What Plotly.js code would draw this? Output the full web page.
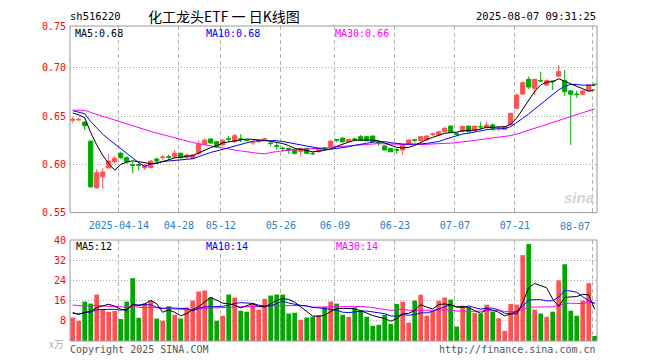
<!DOCTYPE html>
<html>
<head>
<meta charset="utf-8">
<script src="https://cdn.plot.ly/plotly-3.0.1.min.js"></script>
<style>
html,body{margin:0;padding:0;background:#fff;}
#chart{width:660px;height:360px;}
</style>
</head>
<body>
<div id="chart"></div>
<script>
// ---------- data ----------
const dates = ['04-01','04-02','04-03','04-07','04-08','04-09','04-10','04-11','04-14','04-15','04-16','04-17','04-18','04-21','04-22','04-23','04-24','04-25','04-28','04-29','04-30',
'05-06','05-07','05-08','05-09','05-12','05-13','05-14','05-15','05-16','05-19','05-20','05-21','05-22','05-23','05-26','05-27','05-28','05-29','05-30',
'06-03','06-04','06-05','06-06','06-09','06-10','06-11','06-12','06-13','06-16','06-17','06-18','06-19','06-20','06-23','06-24','06-25','06-26','06-27','06-30',
'07-01','07-02','07-03','07-04','07-07','07-08','07-09','07-10','07-11','07-14','07-15','07-16','07-17','07-18','07-21','07-22','07-23','07-24','07-25','07-28','07-29','07-30','07-31',
'08-01','08-04','08-05','08-06','08-07'];

const openP = [0.6455,0.6460,0.6437,0.6240,0.5758,0.5870,0.5962,0.6027,0.6114,0.6068,
0.5995,0.5995,0.5965,0.5965,0.6055,0.6070,0.6078,0.6075,0.6114,0.6068,
0.6062,0.6110,0.6210,0.6262,0.6234,0.6200,0.6265,0.6234,0.6265,0.6250,
0.6222,0.6235,0.6258,0.6220,0.6193,0.6168,0.6165,0.6155,0.6130,0.6165,
0.6114,0.6130,0.6168,0.6185,0.6255,0.6270,0.6234,0.6262,0.6286,0.6286,
0.6293,0.6226,0.6190,0.6165,0.6150,0.6148,0.6210,0.6254,0.6245,0.6252,
0.6310,0.6303,0.6337,0.6396,0.6316,0.6340,0.6396,0.6348,0.6392,0.6383,
0.6407,0.6375,0.6362,0.6407,0.6580,0.6728,0.6880,0.6787,0.6868,0.6820,
0.6862,0.6913,0.6866,0.6760,0.6727,0.6725,0.6762,0.6830];

const highP = [0.6490,0.6480,0.6450,0.6245,0.5951,0.5960,0.6105,0.6086,0.6130,0.6086,
0.6027,0.6017,0.6000,0.6045,0.6070,0.6095,0.6100,0.6148,0.6120,0.6105,
0.6105,0.6250,0.6267,0.6270,0.6240,0.6260,0.6296,0.6320,0.6310,0.6255,
0.6235,0.6250,0.6272,0.6240,0.6227,0.6183,0.6172,0.6160,0.6170,0.6170,
0.6130,0.6172,0.6180,0.6250,0.6262,0.6285,0.6262,0.6275,0.6303,0.6290,
0.6295,0.6252,0.6195,0.6170,0.6165,0.6205,0.6255,0.6262,0.6290,0.6300,
0.6327,0.6340,0.6390,0.6400,0.6336,0.6398,0.6400,0.6400,0.6440,0.6440,
0.6425,0.6390,0.6393,0.6530,0.6734,0.6860,0.6907,0.6885,0.6959,0.6880,
0.6868,0.7028,0.6976,0.6770,0.6760,0.6762,0.6825,0.6835];

const lowP = [0.6430,0.6445,0.6355,0.5755,0.5745,0.5748,0.5955,0.6010,0.6055,0.6005,
0.5907,0.5940,0.5940,0.5960,0.6010,0.6045,0.6045,0.6065,0.6060,0.6062,
0.6055,0.6096,0.6200,0.6215,0.6165,0.6195,0.6230,0.6220,0.6230,0.6240,
0.6200,0.6220,0.6245,0.6190,0.6150,0.6130,0.6107,0.6100,0.6080,0.6110,
0.6095,0.6125,0.6150,0.6175,0.6230,0.6220,0.6230,0.6240,0.6240,0.6240,
0.6228,0.6190,0.6145,0.6125,0.6107,0.6096,0.6205,0.6225,0.6240,0.6245,
0.6290,0.6300,0.6330,0.6325,0.6295,0.6330,0.6330,0.6340,0.6360,0.6355,
0.6345,0.6345,0.6355,0.6405,0.6575,0.6718,0.6780,0.6717,0.6850,0.6810,
0.6770,0.6905,0.6707,0.6200,0.6690,0.6720,0.6760,0.6822];

const closeP = [0.6465,0.6465,0.6400,0.5768,0.5913,0.5920,0.6034,0.6062,0.6068,0.6027,
0.5990,0.5990,0.5993,0.6034,0.6034,0.6075,0.6072,0.6114,0.6068,0.6096,
0.6096,0.6207,0.6250,0.6220,0.6180,0.6250,0.6260,0.6296,0.6258,0.6245,
0.6228,0.6245,0.6262,0.6215,0.6188,0.6163,0.6145,0.6114,0.6165,0.6114,
0.6110,0.6165,0.6163,0.6240,0.6252,0.6234,0.6260,0.6258,0.6252,0.6245,
0.6234,0.6222,0.6148,0.6130,0.6146,0.6200,0.6252,0.6250,0.6286,0.6293,
0.6314,0.6337,0.6372,0.6327,0.6312,0.6393,0.6337,0.6396,0.6388,0.6407,
0.6372,0.6380,0.6390,0.6528,0.6717,0.6845,0.6800,0.6880,0.6864,0.6866,
0.6858,0.6959,0.6752,0.6725,0.6723,0.6760,0.6820,0.6826];

// volume, unit: 万 (10k)
const volume = [9.3,8.0,15.6,14.8,18.4,12.4,11.6,11.9,8.7,15.6,
24.9,9.2,14.9,15.9,8.9,8.0,13.7,10.4,8.9,13.3,
16.0,19.6,20.0,17.3,8.0,10.0,18.4,17.2,12.0,11.6,
14.9,12.4,16.7,18.0,18.4,18.4,10.9,11.2,8.4,9.3,
9.6,10.3,13.5,15.6,14.8,10.4,9.6,13.3,12.0,9.6,
6.0,6.4,10.4,6.8,14.7,15.6,7.3,16.0,18.3,10.0,
12.0,15.9,17.2,16.4,5.7,13.7,13.3,11.1,10.8,14.4,
11.6,9.0,4.0,14.7,14.4,34.0,38.4,12.4,10.9,9.6,
11.6,24.0,30.4,12.0,10.0,16.0,22.9,2.0];

// estimated sessions before the visible window (only feed the moving averages)
const priorClose = [0.645,0.646,0.642,0.652,0.655,0.660,0.663,0.661,0.658,0.662,
0.665,0.660,0.657,0.655,0.659,0.661,0.658,0.656,0.654,0.657,
0.659,0.660,0.657,0.658,0.656,0.656,0.655,0.654,0.654];
const priorVolume = [18,16,14,17,15,19,16,13,15,17,
20,16,14,15,18,16,15,17,14,14,
11,10.5,12,9.5,10.5,12,11.5,12.2,11.5];

const tickDates = ['04-14','04-28','05-12','05-26','06-09','06-23','07-07','07-21','08-07'];
const tickLabels = ['2025-04-14','04-28','05-12','05-26','06-09','06-23','07-07','07-21',''];
const lastTickLabel = '08-07';
const priceTickVals = [0.55,0.60,0.65,0.70];
const priceTickText = ['0.55','0.60','0.65','0.70','0.75'];
const volTickVals = [8,16,24,32,40];
const volTickText = ['8','16','24','32','40'];

// ---------- helpers ----------
function movingAvg(prior, vals, n){
  const all = prior.concat(vals);
  return vals.map((_, i) => {
    const end = prior.length + i;
    let s = 0;
    for (let k = end - n + 1; k <= end; k++) s += all[k];
    return s / n;
  });
}

const W = 660, H = 360;
const plotL = 70, plotR = 597;
const mainTopPx = 26, mainBotPx = 212.6, volTopPx = 240, volBotPx = 341;
const barPx = 6.0, firstBarPx = 72.7;
const pricePerPx = 0.01 / 9.66;
const fx = px => px / W;
const fy = px => 1 - px / H;

const UP = '#ff5353', DOWN = '#00a800', BLUE = '#0000ff', MAG = '#ff00ff';
const MONO = 'DejaVu Sans Mono, monospace';
const CJK = 'Noto Sans CJK SC, sans-serif';

const xIdx = dates.map((d, i) => i);
const xr0 = -(firstBarPx - plotL) / barPx;
const xr1 = (dates.length - 1) + (plotR - (firstBarPx + (dates.length - 1) * barPx)) / barPx;
const yTop = 0.55 + (mainBotPx - mainTopPx) * pricePerPx;

const ma5 = movingAvg(priorClose, closeP, 5);
const ma10 = movingAvg(priorClose, closeP, 10);
const ma30 = movingAvg(priorClose, closeP, 30);
const vma5 = movingAvg(priorVolume, volume, 5);
const vma10 = movingAvg(priorVolume, volume, 10);
const vma30 = movingAvg(priorVolume, volume, 30);

const volColors = closeP.map((c, i) => c >= openP[i] ? UP : DOWN);
const gridShift = -0.3;
const tickPos = tickDates.map(d => dates.indexOf(d) + gridShift);

const traces = [
  {type:'candlestick', x:xIdx, open:openP, high:highP, low:lowP, close:closeP,
   increasing:{line:{color:UP, width:1}, fillcolor:UP},
   decreasing:{line:{color:DOWN, width:1}, fillcolor:DOWN},
   whiskerwidth:0, hoverinfo:'skip', xaxis:'x', yaxis:'y'},
  {type:'scatter', mode:'lines', x:xIdx, y:ma30, line:{color:MAG, width:1}, xaxis:'x', yaxis:'y', hoverinfo:'skip'},
  {type:'scatter', mode:'lines', x:xIdx, y:ma10, line:{color:BLUE, width:1}, xaxis:'x', yaxis:'y', hoverinfo:'skip'},
  {type:'scatter', mode:'lines', x:xIdx, y:ma5, line:{color:'#000', width:1}, xaxis:'x', yaxis:'y', hoverinfo:'skip'},
  {type:'bar', x:xIdx, y:volume, marker:{color:volColors, line:{width:0}}, width:0.78, xaxis:'x', yaxis:'y2', hoverinfo:'skip'},
  {type:'scatter', mode:'lines', x:xIdx, y:vma30, line:{color:MAG, width:1}, xaxis:'x', yaxis:'y2', hoverinfo:'skip'},
  {type:'scatter', mode:'lines', x:xIdx, y:vma10, line:{color:BLUE, width:1}, xaxis:'x', yaxis:'y2', hoverinfo:'skip'},
  {type:'scatter', mode:'lines', x:xIdx, y:vma5, line:{color:'#000', width:1}, xaxis:'x', yaxis:'y2', hoverinfo:'skip'}
];

function ann(text, px, py, xanchor, color, size, family, extra){
  return Object.assign({text:text, x:fx(px), y:fy(py), xref:'paper', yref:'paper',
    xanchor:xanchor, yanchor:'middle', showarrow:false, borderpad:0,
    font:{family:family || MONO, size:size || 10, color:color || '#000'}}, extra || {});
}

const annotations = [
  ann('sh516220', 69, 16.5, 'left', '#000', 10.5),
  ann('化工龙头ETF 一 日K线图', 223.5, 15.7, 'center', '#000', 14, CJK),
  ann('2025-08-07 09:31:25', 597, 16.5, 'right', '#000', 10.5),
  ann('MA5:0.68', 74.4, 33, 'left', '#000', 10),
  ann('MA10:0.68', 204.8, 33, 'left', BLUE, 10),
  ann('MA30:0.66', 334.3, 33, 'left', MAG, 10),
  ann('MA5:12', 75, 246.5, 'left', '#000', 10),
  ann('MA10:14', 205, 246.5, 'left', BLUE, 10),
  ann('MA30:14', 335, 246.5, 'left', MAG, 10),
  ann(lastTickLabel, 591, 226.5, 'right', '#1e7fd2', 10),
  ann('x万', 48.4, 343.5, 'left', '#b0b0b0', 10, CJK),
  ann('Copyright 2025 SINA.COM', 69.4, 349.5, 'left', '#555', 10),
  ann('http://finance.sina.com.cn', 596.5, 349.5, 'right', '#555', 10),
  ann('<b><i>sina</i></b>', 595, 197, 'right', '#d4d4d4', 15, 'Liberation Sans, sans-serif')
];

const frame = (top, bot) => ({type:'rect', xref:'paper', yref:'paper',
  x0:fx(plotL), x1:fx(plotR), y0:fy(bot), y1:fy(top),
  line:{color:'#999', width:1}, fillcolor:'rgba(0,0,0,0)', layer:'above'});

const layout = {
  width:W, height:H, margin:{l:0, r:0, t:0, b:0},
  paper_bgcolor:'#fff', plot_bgcolor:'#fff',
  showlegend:false, hovermode:false, dragmode:false,
  boxgap:0, boxgroupgap:0.3,
  font:{family:MONO, size:10, color:'#000'},
  xaxis:{domain:[fx(plotL), fx(plotR)], range:[xr0, xr1], anchor:'y',
    rangeslider:{visible:false}, showgrid:true, gridcolor:'#b4b4b4', griddash:'4px,3px', gridwidth:1,
    tickmode:'array', tickvals:tickPos, ticktext:tickLabels,
    tickfont:{family:MONO, size:10, color:'#1e7fd2'},
    ticks:'', showline:false, zeroline:false, ticklabelstandoff:5, fixedrange:true},
  yaxis:{domain:[fy(mainBotPx), fy(mainTopPx)], range:[0.55, yTop], anchor:'x',
    tickmode:'array', tickvals:priceTickVals.concat([yTop]), ticktext:priceTickText,
    tickfont:{family:MONO, size:10, color:'#f00'},
    showgrid:true, gridcolor:'#aaa', griddash:'1px,2px', gridwidth:1,
    zeroline:false, showline:false, ticks:'', ticklabelstandoff:3, fixedrange:true},
  yaxis2:{domain:[fy(volBotPx), fy(volTopPx)], range:[0, 40], anchor:'x',
    tickmode:'array', tickvals:volTickVals, ticktext:volTickText,
    tickfont:{family:MONO, size:10, color:'#f00'},
    showgrid:true, gridcolor:'#aaa', griddash:'1px,2px', gridwidth:1,
    zeroline:false, showline:false, ticks:'', ticklabelstandoff:3, fixedrange:true},
  shapes:[frame(mainTopPx, mainBotPx), frame(volTopPx, volBotPx)],
  annotations:annotations
};

Plotly.newPlot('chart', traces, layout, {staticPlot:true, displayModeBar:false});
</script>
</body>
</html>
